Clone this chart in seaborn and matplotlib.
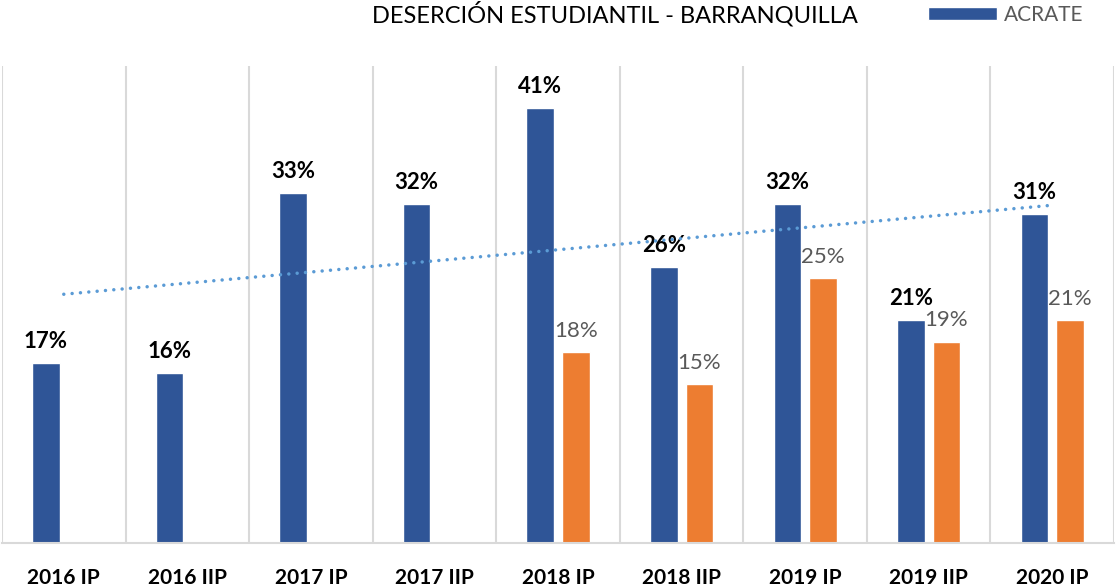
import numpy as np
import pandas as pd
import matplotlib
matplotlib.use("Agg")
import matplotlib.pyplot as plt
import seaborn as sns
from matplotlib.patches import Patch

categories = ["2016 IP", "2016 IIP", "2017 IP", "2017 IIP", "2018 IP",
              "2018 IIP", "2019 IP", "2019 IIP", "2020 IP"]
acrate = [17, 16, 33, 32, 41, 26, 32, 21, 31]
serie2 = [np.nan, np.nan, np.nan, np.nan, 18, 15, 25, 19, 21]
series_names = ["ACRATE", "Serie 2"]
title = "DESERCIÓN ESTUDIANTIL - BARRANQUILLA"

sns.set_theme(style="white")
plt.rcParams['font.family'] = ['Lato', 'DejaVu Sans']

df = pd.DataFrame({
    "periodo": categories * 2,
    "serie": [series_names[0]] * len(categories) + [series_names[1]] * len(categories),
    "valor": acrate + serie2,
})

BLUE = "#2F5597"
ORANGE = "#ED7D31"
GRID = "#D9D9D9"

fig = plt.figure(figsize=(11.19, 5.86), dpi=100)
ax = fig.add_axes([2 / 1119, 43 / 586, 1112 / 1119, 477 / 586])

sns.barplot(data=df, x="periodo", y="valor", hue="serie", order=categories,
            hue_order=series_names, palette=[BLUE, ORANGE], saturation=1,
            width=0.575, gap=0.225, errorbar=None, legend=False, ax=ax)

# labels
ax.bar_label(ax.containers[0], fmt=lambda v: f"{v:.0f}%", padding=8,
             fontsize=16, fontweight="bold", color="black")
ax.bar_label(ax.containers[1], fmt=lambda v: f"{v:.0f}%", padding=8,
             fontsize=16, color="#595959")

# linear trend line of ACRATE
xs = np.arange(len(categories))
coef = np.polyfit(xs, acrate, 1)
ax.plot(xs, np.polyval(coef, xs), color="#5B9BD5", lw=2.5,
        linestyle=(0, (0.01, 2.4)), dash_capstyle="round", zorder=5)

ax.set_xlim(-0.5, len(categories) - 0.5)
ax.set_ylim(0, 45)
ax.set_yticks([])
ax.set_xlabel("")
ax.set_ylabel("")
ax.set_xticks(np.arange(-0.5, len(categories), 1), minor=True)
ax.grid(which="minor", axis="x", color=GRID, lw=1.5)
ax.grid(which="major", visible=False)
ax.set_axisbelow(True)
ax.tick_params(axis="x", which="both", length=0, pad=18)
for lbl in ax.get_xticklabels():
    lbl.set_fontsize(15)
    lbl.set_fontweight("bold")
    lbl.set_color("black")
for s in ["top", "left", "right"]:
    ax.spines[s].set_visible(False)
ax.spines["bottom"].set_color(GRID)
ax.spines["bottom"].set_linewidth(1.5)

fig.text(615 / 1119, 1 - 14 / 586, title, ha="center", va="center",
         fontsize=17, color="black")
fig.legend(handles=[Patch(facecolor=BLUE, label=series_names[0])],
           loc="center left", bbox_to_anchor=(928 / 1119, 1 - 15 / 586),
           frameon=False, borderpad=0, borderaxespad=0, handlelength=3.3,
           handleheight=0.62, handletextpad=0.33, fontsize=15,
           labelcolor="#595959")

fig.savefig("out.png", dpi=100)
